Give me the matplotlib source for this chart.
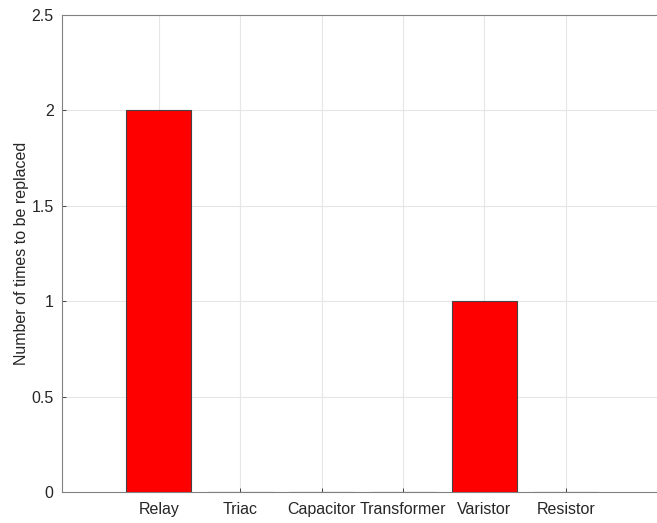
import numpy as np
import matplotlib.pyplot as plt

plt.rcParams['font.family'] = ['Liberation Sans', 'DejaVu Sans']

components = ['Relay', 'Triac', 'Capacitor', 'Transformer', 'Varistor', 'Resistor']
replacements = [2, 0, 0, 0, 1, 0]

y_ticks = [0, 0.5, 1, 1.5, 2, 2.5]
y_tick_labels = ['0', '0.5', '1', '1.5', '2', '2.5']


def plot_replacements():
    fig = plt.figure(figsize=(6.57, 5.23), dpi=100)
    ax = fig.add_axes([62 / 657, 31 / 523, 595 / 657, 477 / 523])

    x = np.arange(1, len(components) + 1)
    ax.bar(x, replacements, width=0.8, color='#ff0000', edgecolor='#444444',
           linewidth=0.8, zorder=3)

    ax.set_xlim(-0.19, -0.19 + 595 / 81.4)
    ax.set_ylim(0, 2.5)
    ax.set_xticks(x)
    ax.set_xticklabels(components)
    ax.set_yticks(y_ticks)
    ax.set_yticklabels(y_tick_labels)

    ax.grid(True, color='#e6e6e6', linewidth=0.8, zorder=0)
    ax.tick_params(axis='both', labelsize=11.5, colors='#262626',
                   direction='in', length=3, width=0.6)
    ax.tick_params(axis='x', pad=7)
    ax.tick_params(axis='y', pad=6)
    for side in ['top', 'left', 'bottom']:
        ax.spines[side].set_color('#808080')
        ax.spines[side].set_linewidth(0.8)
    ax.spines['right'].set_visible(False)

    ax.set_ylabel('Number of times to be replaced', fontsize=11.5,
                  color='#262626', labelpad=2)

    fig.savefig('out.png', dpi=100)


if __name__ == '__main__':
    plot_replacements()
